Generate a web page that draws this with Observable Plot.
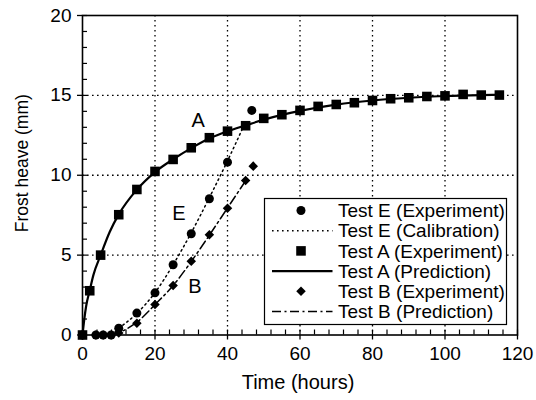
<!DOCTYPE html>
<html><head><meta charset="utf-8">
<script src="https://cdn.jsdelivr.net/npm/d3@7"></script>
<script src="https://cdn.jsdelivr.net/npm/@observablehq/plot@0.6"></script>
<style>body{margin:0;background:#fff} #chart{width:536px;height:400px}</style>
</head><body><div id="chart"></div>
<script>
// ---- data ----
const xTicks = [0, 20, 40, 60, 80, 100, 120];
const yTicks = [0, 5, 10, 15, 20];
const xGrid = [20, 40, 60, 80, 100];
const yGrid = [5, 10, 15];
const xMinor = [0,4,8,12,16,20,24,28,32,36,40,44,48,52,56,60,64,68,72,76,80,84,88,92,96,100,104,108,112,116,120];
const yMinor = [0,1,2,3,4,5,6,7,8,9,10,11,12,13,14,15,16,17,18,19,20];
const xTitle = "Time (hours)";
const yTitle = "Frost heave (mm)";

// Test E (Experiment)
const eHours = [0, 3.7, 5.7, 7.9, 10, 15, 20, 25, 30, 35, 40, 46.7];
const eHeave = [0, 0, 0, 0, 0.43, 1.37, 2.64, 4.4, 6.34, 8.53, 10.82, 14.06];
// Test E (Calibration)
const eCalHours = [8, 10, 15, 20, 25, 30, 35, 40, 44.3];
const eCalHeave = [0, 0.4, 1.35, 2.65, 4.4, 6.4, 8.6, 10.9, 13.0];
// Test A (Experiment)
const aHours = [0, 2, 5, 10, 15, 20, 25, 30, 35, 40, 45, 50, 55, 60, 65, 70, 75, 80, 85, 90, 95, 100, 105, 110, 115];
const aHeave = [0, 2.77, 5.0, 7.53, 9.11, 10.24, 10.99, 11.72, 12.35, 12.76, 13.1, 13.56, 13.79, 14.06, 14.31, 14.43, 14.54, 14.68, 14.79, 14.85, 14.93, 14.97, 15.06, 15.02, 15.02];
// Test A (Prediction)
const aPredHours = [0, 0.5, 1, 2, 3, 5, 7.5, 10, 15, 20, 25, 30, 35, 40, 45, 50, 55, 60, 70, 80, 90, 100, 110, 115];
const aPredHeave = [0, 1.0, 1.8, 2.8, 3.75, 5.0, 6.45, 7.55, 9.1, 10.2, 11.0, 11.7, 12.3, 12.75, 13.12, 13.48, 13.78, 14.03, 14.42, 14.68, 14.85, 14.96, 15.02, 15.04];
// Test B (Experiment)
const bHours = [0, 3.7, 5.7, 7.9, 10, 15, 20, 25, 30, 35, 40, 45, 47.1];
const bHeave = [0, 0, 0, 0, 0.12, 0.74, 1.91, 3.1, 4.62, 6.27, 7.94, 9.67, 10.57];
// Test B (Prediction)
const bPredHours = [8, 10, 15, 20, 25, 30, 35, 40, 45.2];
const bPredHeave = [0, 0.15, 0.8, 1.9, 3.1, 4.6, 6.25, 7.95, 9.72];

// curve labels
const labelText = ["A", "E", "B"];
const labelHours = [31.9, 26.6, 31.0];
const labelHeave = [13.4, 7.6, 3.0];

const legendItems = ["Test E (Experiment)", "Test E (Calibration)", "Test A (Experiment)", "Test A (Prediction)", "Test B (Experiment)", "Test B (Prediction)"];

// ---- build ----
const zip = (xs, ys) => xs.map((x, i) => ({x, y: ys[i]}));
const E = zip(eHours, eHeave), ECal = zip(eCalHours, eCalHeave);
const A = zip(aHours, aHeave), APred = zip(aPredHours, aPredHeave);
const B = zip(bHours, bHeave), BPred = zip(bPredHours, bPredHeave);
const labels = labelText.map((t, i) => ({t, x: labelHours[i], y: labelHeave[i]}));

const W = 536, H = 400, mL = 82, mR = 19, mT = 15, mB = 65.5;
const plotW = W - mL - mR, plotH = H - mT - mB;
const FONT = "'Liberation Sans', Arial, Helvetica, sans-serif";
const dotted = "1.6,3.4";
const dashdot = "9,3.5,2,3.5";
const rDiamond = 4.3;

const plot = Plot.plot({
  width: W, height: H,
  marginLeft: mL, marginRight: mR, marginTop: mT, marginBottom: mB,
  style: {fontFamily: FONT, fontSize: "19px", color: "black", background: "white", overflow: "visible"},
  x: {domain: [0, 120]},
  y: {domain: [0, 20]},
  marks: [
    Plot.gridX(xGrid, {stroke: "black", strokeOpacity: 1, strokeWidth: 1.3, strokeDasharray: dotted}),
    Plot.gridY(yGrid, {stroke: "black", strokeOpacity: 1, strokeWidth: 1.3, strokeDasharray: dotted}),
    Plot.tickX(xMinor, {x: d => d, insetTop: plotH - 5, stroke: "black", strokeWidth: 1.2}),
    Plot.tickY(yMinor, {y: d => d, insetRight: plotW - 5, stroke: "black", strokeWidth: 1.2}),
    Plot.axisX(xTicks, {tickSize: 5, tickPadding: 6, strokeWidth: 1.3, fontSize: 19, label: null}),
    Plot.axisY(yTicks, {tickSize: 5, tickPadding: 6, strokeWidth: 1.3, fontSize: 19, label: null}),
    Plot.text([xTitle], {text: d => d, frameAnchor: "bottom", textAnchor: "middle", dx: -2, dy: 54, fontSize: 20, fill: "black"}),
    Plot.text([yTitle], {text: d => d, frameAnchor: "left", textAnchor: "middle", rotate: -90, dx: -60, dy: -12, fontSize: 17.5, fill: "black"}),
    Plot.frame({stroke: "black", strokeWidth: 1.6}),
    Plot.line(ECal, {x: "x", y: "y", stroke: "black", strokeWidth: 1.5, strokeDasharray: dotted, curve: "monotone-x"}),
    Plot.line(BPred, {x: "x", y: "y", stroke: "black", strokeWidth: 1.5, strokeDasharray: dashdot, curve: "monotone-x"}),
    Plot.line(APred, {x: "x", y: "y", stroke: "black", strokeWidth: 2.2, curve: "monotone-x"}),
    Plot.dot(B, {x: "x", y: "y", symbol: "diamond2", r: rDiamond, fill: "black", stroke: "none"}),
    Plot.dot(E, {x: "x", y: "y", symbol: "circle", r: 4.5, fill: "black", stroke: "none"}),
    Plot.dot(A, {x: "x", y: "y", symbol: "square", r: 5.4, fill: "black", stroke: "none"}),
    Plot.text(labels, {x: "x", y: "y", text: "t", fontSize: 20, fill: "black"})
  ]
});
document.getElementById("chart").append(plot);

// ---- legend (inside plot area, lower right) ----
const svg = d3.select(plot);
const lg = svg.append("g").attr("font-family", FONT).attr("font-size", 19).attr("text-anchor", "start");
const bx = 264.5, by = 198.5, bw = 242, bh = 126;
lg.append("rect").attr("x", bx).attr("y", by).attr("width", bw).attr("height", bh)
  .attr("fill", "white").attr("stroke", "black").attr("stroke-width", 1.2);
const rowY = i => 210.5 + i * 20.2;
const symX = 301, lx1 = 272, lx2 = 332.5, tx = 338;
legendItems.forEach((t, i) => {
  lg.append("text").attr("x", tx).attr("y", rowY(i)).attr("dy", "0.35em")
    .attr("text-anchor", "start").attr("fill", "black").text(t);
});
const sym = (type, r) => d3.symbol(type, Math.PI * r * r)();
lg.append("path").attr("d", sym(d3.symbolCircle, 4.5)).attr("transform", `translate(${symX},${rowY(0)})`);
lg.append("line").attr("x1", lx1).attr("x2", lx2).attr("y1", rowY(1)).attr("y2", rowY(1)).attr("stroke", "black").attr("stroke-width", 1.5).attr("stroke-dasharray", dotted);
lg.append("path").attr("d", sym(d3.symbolSquare, 5.4)).attr("transform", `translate(${symX},${rowY(2)})`);
lg.append("line").attr("x1", lx1).attr("x2", lx2).attr("y1", rowY(3)).attr("y2", rowY(3)).attr("stroke", "black").attr("stroke-width", 2.2);
lg.append("path").attr("d", sym(d3.symbolDiamond2, rDiamond)).attr("transform", `translate(${symX},${rowY(4)})`);
lg.append("line").attr("x1", lx1).attr("x2", lx2).attr("y1", rowY(5)).attr("y2", rowY(5)).attr("stroke", "black").attr("stroke-width", 1.5).attr("stroke-dasharray", dashdot);
</script>
</body></html>
